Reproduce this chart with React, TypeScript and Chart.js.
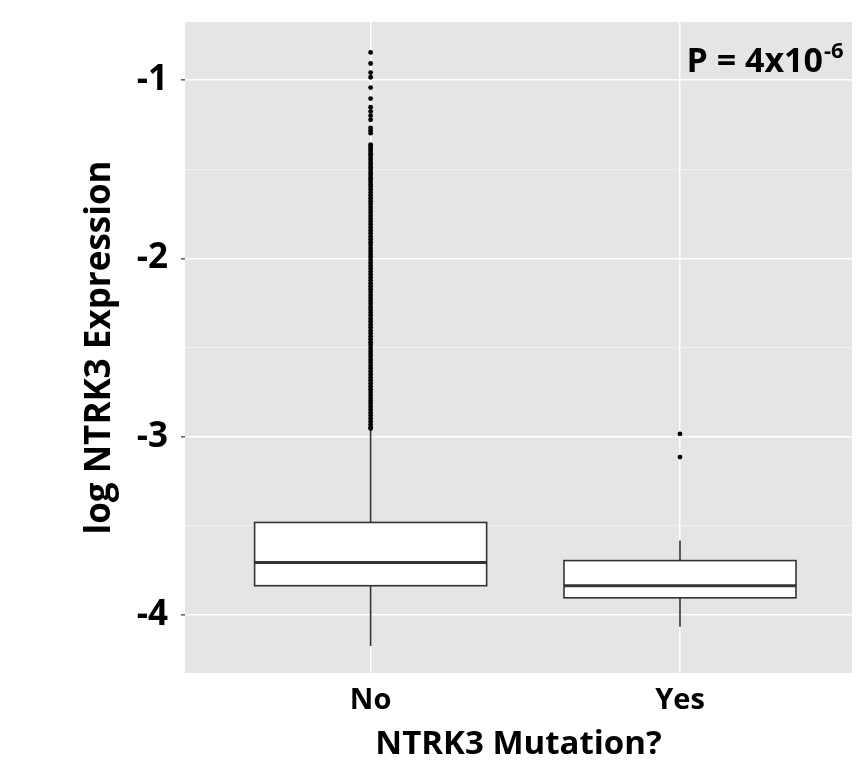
import React, { useEffect, useRef } from 'react';
import { Chart, registerables } from 'chart.js';

Chart.register(...registerables);

const CATEGORIES = ['No', 'Yes'];
const CATEGORY_POS = [1, 2];
const Y_TICKS = [-4, -3.5, -3, -2.5, -2, -1.5, -1];
const Y_LABELED = [-4, -3, -2, -1];

const BOX_Q1 = [-3.837, -3.905];
const BOX_MEDIAN = [-3.707, -3.837];
const BOX_Q3 = [-3.482, -3.696];
const WHISKER_LOW = [-4.175, -4.068];
const WHISKER_HIGH = [-2.957, -3.583];

const OUTLIERS_NO = [
  -0.844, -0.906, -0.957, -0.983, -1.041, -1.103, -1.151, -1.175, -1.199, -1.222,
  -1.267, -1.282, -1.297,
  -1.361, -1.373, -1.384, -1.396, -1.409, -1.421, -1.437, -1.448, -1.463, -1.476,
  -1.489, -1.503, -1.518, -1.531, -1.546, -1.557, -1.571, -1.585,
  -1.598, -1.613, -1.63, -1.646, -1.662, -1.679, -1.695, -1.711, -1.728, -1.744,
  -1.761, -1.777, -1.794, -1.81, -1.826, -1.843, -1.859, -1.876, -1.892, -1.909,
  -1.925, -1.942, -1.958, -1.975, -1.991, -2.008, -2.024, -2.041, -2.057, -2.074,
  -2.09, -2.107, -2.123, -2.14, -2.156, -2.173, -2.189, -2.206, -2.222, -2.239,
  -2.255, -2.272, -2.288, -2.305, -2.321, -2.338, -2.354, -2.371, -2.387, -2.404,
  -2.42, -2.437, -2.453, -2.47, -2.486, -2.503, -2.519, -2.536, -2.552, -2.569,
  -2.585, -2.602, -2.618, -2.635, -2.651, -2.668, -2.684, -2.701, -2.717, -2.734,
  -2.75, -2.767, -2.783, -2.8, -2.816, -2.833, -2.849, -2.866, -2.882, -2.899,
  -2.915, -2.932, -2.948, -2.955,
];
const OUTLIERS_YES = [-2.985, -3.115];

const P_TEXT = 'P = 4x10';
const P_EXP = '-6';

const FONT = '"Open Sans", "DejaVu Sans", sans-serif';
const BOX_HALF_WIDTH = 0.375;

const bgPlugin = {
  id: 'panelBg',
  beforeDraw(chart: any) {
    const { ctx, chartArea } = chart;
    ctx.save();
    ctx.fillStyle = '#e5e5e5';
    ctx.fillRect(chartArea.left, chartArea.top, chartArea.right - chartArea.left, chartArea.bottom - chartArea.top);
    ctx.restore();
  },
};

const boxPlugin = {
  id: 'boxes',
  beforeDatasetsDraw(chart: any) {
    const { ctx } = chart;
    const xs = chart.scales.x;
    const ys = chart.scales.y;
    ctx.save();
    ctx.strokeStyle = '#333333';
    CATEGORY_POS.forEach((c, i) => {
      const xc = xs.getPixelForValue(c);
      const xl = xs.getPixelForValue(c - BOX_HALF_WIDTH);
      const xr = xs.getPixelForValue(c + BOX_HALF_WIDTH);
      const yq1 = ys.getPixelForValue(BOX_Q1[i]);
      const yq3 = ys.getPixelForValue(BOX_Q3[i]);
      const ym = ys.getPixelForValue(BOX_MEDIAN[i]);
      const ylo = ys.getPixelForValue(WHISKER_LOW[i]);
      const yhi = ys.getPixelForValue(WHISKER_HIGH[i]);
      ctx.lineWidth = 1.6;
      ctx.beginPath();
      ctx.moveTo(xc, yq3);
      ctx.lineTo(xc, yhi);
      ctx.moveTo(xc, yq1);
      ctx.lineTo(xc, ylo);
      ctx.stroke();
      ctx.fillStyle = '#ffffff';
      ctx.fillRect(xl, yq3, xr - xl, yq1 - yq3);
      ctx.strokeRect(xl, yq3, xr - xl, yq1 - yq3);
      ctx.lineWidth = 3;
      ctx.beginPath();
      ctx.moveTo(xl, ym);
      ctx.lineTo(xr, ym);
      ctx.stroke();
    });
    ctx.restore();
  },
};

const annotationPlugin = {
  id: 'pAnnotation',
  afterDraw(chart: any) {
    const { ctx, chartArea } = chart;
    ctx.save();
    ctx.fillStyle = '#000000';
    ctx.textBaseline = 'alphabetic';
    ctx.font = `bold 34px ${FONT}`;
    ctx.textAlign = 'right';
    const xEnd = chartArea.right - 29;
    ctx.fillText(P_TEXT, xEnd, chartArea.top + 50);
    ctx.font = `bold 22px ${FONT}`;
    ctx.textAlign = 'left';
    ctx.fillText(P_EXP, xEnd + 1, chartArea.top + 36);
    ctx.restore();
  },
};

export default function App() {
  const ref = useRef<HTMLCanvasElement | null>(null);

  useEffect(() => {
    if (!ref.current) return;
    const data = {
      datasets: [
        {
          data: [
            ...OUTLIERS_NO.map((v) => ({ x: CATEGORY_POS[0], y: v })),
            ...OUTLIERS_YES.map((v) => ({ x: CATEGORY_POS[1], y: v })),
          ],
          pointRadius: 2.4,
          pointBackgroundColor: '#000000',
          pointBorderWidth: 0,
          showLine: false,
        },
      ],
    };
    const chart = new Chart(ref.current, {
      type: 'scatter',
      data,
      plugins: [bgPlugin, boxPlugin, annotationPlugin],
      options: {
        responsive: false,
        animation: false,
        events: [],
        layout: { padding: { top: 22, right: 0, left: 0, bottom: 0 } },
        plugins: { legend: { display: false }, tooltip: { enabled: false } },
        scales: {
          x: {
            type: 'linear',
            min: 0.4,
            max: 2.556,
            afterBuildTicks: (s: any) => {
              s.ticks = CATEGORY_POS.map((v) => ({ value: v }));
            },
            afterFit: (s: any) => {
              s.height = 92;
              s.paddingLeft = 0;
              s.paddingRight = 0;
            },
            ticks: {
              callback: (_v: any, i: number) => CATEGORIES[i],
              font: { family: FONT, weight: 'bold', size: 29 },
              color: '#000000',
              padding: 6,
              maxRotation: 0,
              autoSkip: false,
            },
            grid: {
              color: '#ffffff',
              lineWidth: 1.5,
              tickLength: 4,
              tickColor: 'rgba(0,0,0,0)',
            },
            border: { display: false },
            title: {
              display: true,
              text: 'NTRK3 Mutation?',
              font: { family: FONT, weight: 'bold', size: 33 },
              color: '#000000',
              padding: { top: 0, bottom: 1 },
            },
          },
          y: {
            type: 'linear',
            min: -4.327,
            max: -0.673,
            afterBuildTicks: (s: any) => {
              s.ticks = Y_TICKS.map((v) => ({ value: v }));
            },
            afterFit: (s: any) => {
              s.width = 185;
              s.paddingTop = 0;
              s.paddingBottom = 0;
            },
            ticks: {
              callback: (v: any) => (Y_LABELED.includes(v) ? String(v) : ''),
              font: { family: FONT, weight: 'bold', size: 35 },
              color: '#000000',
              padding: 13,
            },
            grid: {
              color: (c: any) => (c.tick && Y_LABELED.includes(c.tick.value) ? '#ffffff' : '#f1f1f1'),
              lineWidth: (c: any) => (c.tick && Y_LABELED.includes(c.tick.value) ? 1.6 : 1),
              tickLength: 4,
              tickColor: (c: any) => (c.tick && Y_LABELED.includes(c.tick.value) ? '#666666' : 'rgba(0,0,0,0)'),
            },
            border: { display: false },
            title: {
              display: true,
              text: 'log NTRK3 Expression',
              font: { family: FONT, weight: 'bold', size: 35 },
              color: '#000000',
              padding: { top: 79, bottom: 0 },
            },
          },
        },
      },
    } as any);
    return () => chart.destroy();
  }, []);

  return (
    <div style={{ position: 'absolute', left: 0, top: 0, width: 856, height: 765, background: '#ffffff' }}>
      <canvas ref={ref} width={856} height={765} style={{ display: 'block', width: 856, height: 765 }} />
    </div>
  );
}
